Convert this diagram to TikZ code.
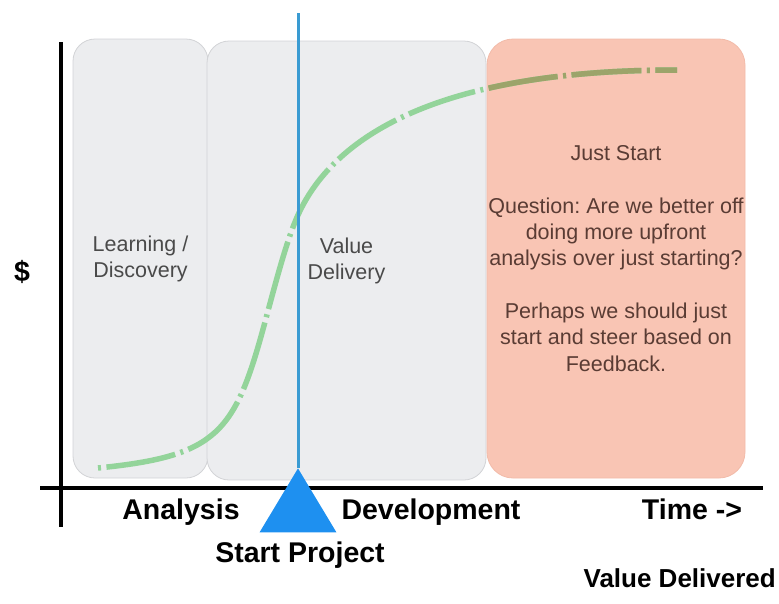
\documentclass[tikz,border=0pt]{standalone}
\usepackage{fontspec}
\setmainfont{Liberation Sans}
\usetikzlibrary{shapes.geometric}
\definecolor{boxgray}{HTML}{ECEDEF}
\definecolor{boxline}{HTML}{D2D3D6}
\definecolor{salmon}{HTML}{F9C5B4}
\definecolor{salmonline}{HTML}{F2BBA9}
\definecolor{curvegreen}{HTML}{93D49A}
\definecolor{curveolive}{HTML}{9CA46A}
\definecolor{blueline}{HTML}{3A9BD2}
\definecolor{bluetri}{HTML}{1E90F0}
\definecolor{boxtext}{HTML}{4A4A4A}
\definecolor{pinktext}{HTML}{5A3C34}
\begin{document}
\frenchspacing
\begin{tikzpicture}[x=1pt,y=-1pt,
  graybox/.style={draw=boxline, fill=boxgray, line width=0.8pt, rounded corners=22pt,
    align=center, text=boxtext, font=\fontsize{21.5}{26}\selectfont, inner sep=0pt},
  pinkbox/.style={draw=salmonline, fill=salmon, line width=0.8pt, rounded corners=26pt,
    align=center, text=pinktext, font=\fontsize{21.5}{26.3}\selectfont, inner sep=0pt},
  axis/.style={line width=4pt, black},
  lbl/.style={font=\fontsize{28.5}{32}\selectfont\bfseries, text=black, inner sep=0pt, anchor=base},
  curvestyle/.style={line width=5.5pt, dash pattern=on 3pt off 5.5pt on 70pt off 5.5pt},
]
\useasboundingbox (0,0) rectangle (779,603);

% boxes
\node[graybox, minimum width=135pt, minimum height=439pt] (learn) at (140.5,258.5)
  {Learning /\\Discovery};
\node[graybox, minimum width=279pt, minimum height=439pt] (value) at (346.5,260.5)
  {Value\\Delivery};
\node[pinkbox, minimum width=258pt, minimum height=439pt] (just) at (616,258.5)
  {Just Start\\[26.3pt]Question: Are we better off\\doing more upfront\\analysis over just starting?\\[26.3pt]Perhaps we should just\\start and steer based on\\Feedback.};

% green S-curve
\def\scurve{(98,468) .. controls (218,456) and (235,433) .. (265,322)
  .. controls (276,281.3) and (287,239) .. (298,215)
  .. controls (336,131.4) and (447,70) .. (677,70)}
\draw[curvestyle, curvegreen] \scurve;
\begin{scope}
  \clip (just.south west) rectangle (just.north east);
  \draw[curvestyle, curveolive] \scurve;
\end{scope}

% axes
\coordinate (ytop) at (61,42);
\coordinate (ybot) at (61,527);
\coordinate (xleft) at (40,488);
\coordinate (xright) at (763,488);
\draw[axis] (ytop) -- (ybot);
\draw[axis] (xleft) -- (xright);

% start line and triangle
\coordinate (ltop) at (298,13);
\node[draw=none, fill=bluetri, isosceles triangle, isosceles triangle apex angle=62,
  shape border rotate=90, minimum height=64pt, inner sep=0pt, anchor=apex] (tri) at (298,468) {};
\draw[blueline, line width=3pt] (ltop) -- (tri.apex);

% labels
\node[lbl] (dollar) at (22,281) {\$};
\node[lbl] (analysis) at (181,519) {Analysis};
\node[lbl] (dev) at (431,519) {Development};
\node[lbl] (time) at (692,519) {Time ->};
\node[lbl] (start) at (300,562) {Start Project};
\node[lbl, font=\fontsize{26}{30}\selectfont\bfseries, anchor=base east] (valdel) at (776,587) {Value Delivered};
\end{tikzpicture}
\end{document}
